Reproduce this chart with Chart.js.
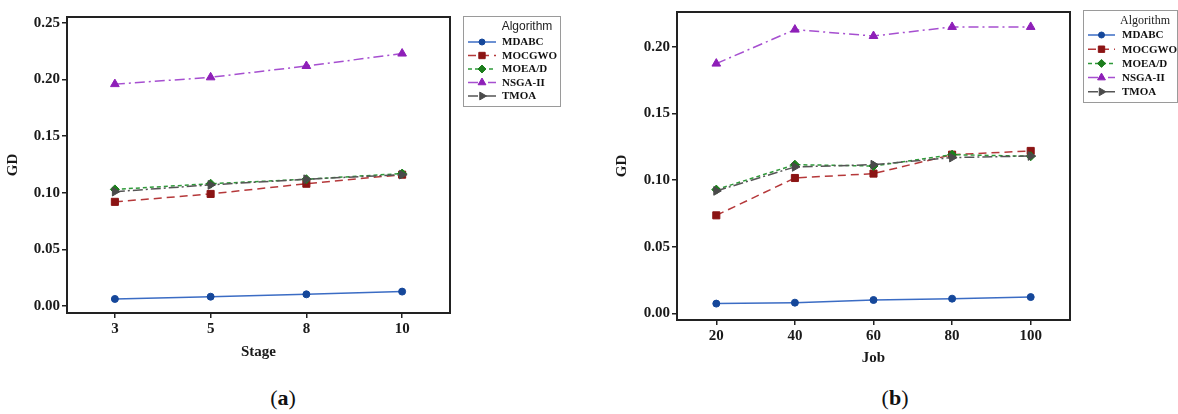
<!DOCTYPE html>
<html>
<head>
<meta charset="utf-8">
<script src="https://cdn.jsdelivr.net/npm/chart.js@4.4.1/dist/chart.umd.min.js"></script>
<style>
  body { margin: 0; background: #fff; width: 1178px; height: 414px; overflow: hidden; position: relative; }
  canvas { position: absolute; top: 0; }
  #chartA { left: 0; }
  #chartB { left: 590px; }
  .sub { position: absolute; top: 385px; font: 22px "Liberation Serif", serif; color: #111; transform: translateX(-50%); }
</style>
</head>
<body>
<canvas id="chartA" width="580" height="380"></canvas>
<canvas id="chartB" width="588" height="380"></canvas>
<div class="sub" style="left:283px">(<b>a</b>)</div>
<div class="sub" style="left:895px">(<b>b</b>)</div>
<script>
// algorithm names, same order in both panels
const algorithms = ["MDABC", "MOCGWO", "MOEA/D", "NSGA-II", "TMOA"];

// panel (a): GD vs number of stages
const stageLabels = ["3", "5", "8", "10"];
const stageMDABC = [0.0062, 0.0082, 0.0103, 0.0127];
const stageMOCGWO = [0.092, 0.099, 0.108, 0.116];
const stageMOEAD = [0.103, 0.108, 0.112, 0.117];
const stageNSGA2 = [0.196, 0.202, 0.212, 0.223];
const stageTMOA = [0.101, 0.107, 0.112, 0.116];

// panel (b): GD vs number of jobs
const jobLabels = ["20", "40", "60", "80", "100"];
const jobMDABC = [0.0073, 0.008, 0.010, 0.011, 0.0122];
const jobMOCGWO = [0.0735, 0.1015, 0.1048, 0.119, 0.1218];
const jobMOEAD = [0.0928, 0.1115, 0.1105, 0.119, 0.1178];
const jobNSGA2 = [0.1873, 0.2128, 0.208, 0.2148, 0.2148];
const jobTMOA = [0.0918, 0.1098, 0.1115, 0.1168, 0.118];

const gdTicks = [0, 0.05, 0.1, 0.15, 0.2, 0.25];

// line look per algorithm
const styles = [
  { line: "#3b6cc4", mark: "#15479a", dash: [], shape: "circle", r: 3.5, rot: 0, order: 5 },
  { line: "#b5383a", mark: "#8b1414", dash: [8, 5], shape: "rect", r: 5, rot: 0, order: 4 },
  { line: "#2f9a3a", mark: "#1c7d1c", dash: [4, 3], shape: "rectRot", r: 4.5, rot: 0, order: 3 },
  { line: "#a64fd0", mark: "#8e1fb8", dash: [10, 4, 2, 4], shape: "triangle", r: 5, rot: 0, order: 2 },
  { line: "#555555", mark: "#4a4a4a", dash: [10, 3, 2, 3], shape: "triangle", r: 5, rot: 90, order: 1 },
];

function makeDatasets(series) {
  return series.map((data, i) => {
    const s = styles[i];
    return {
      label: algorithms[i],
      data: data,
      borderColor: s.line,
      borderWidth: 1.5,
      borderDash: s.dash,
      pointStyle: s.shape,
      pointRotation: s.rot,
      pointRadius: s.r,
      pointHoverRadius: s.r,
      pointBackgroundColor: s.mark,
      pointBorderColor: s.mark,
      pointBorderWidth: 1,
      fill: false,
      tension: 0,
      order: s.order,
    };
  });
}

const frame = {
  id: "frame",
  afterDraw(chart) {
    const a = chart.chartArea;
    const ctx = chart.ctx;
    ctx.save();
    ctx.strokeStyle = "#222";
    ctx.lineWidth = 2;
    ctx.strokeRect(a.left, a.top, a.right - a.left, a.bottom - a.top);
    ctx.restore();
  },
};

const boxLegend = {
  id: "boxLegend",
  afterDraw(chart, args, o) {
    const ctx = chart.ctx;
    ctx.save();
    ctx.strokeStyle = "#9a9a9a";
    ctx.lineWidth = 1;
    ctx.strokeRect(o.x + 0.5, o.y + 0.5, o.w, o.h);
    ctx.fillStyle = "#222";
    ctx.textBaseline = "middle";
    ctx.textAlign = "center";
    ctx.font = o.titleFont;
    ctx.fillText("Algorithm", o.titleX, o.titleY);
    ctx.textAlign = "left";
    chart.data.datasets.forEach((ds, i) => {
      const y = o.rowY + i * o.rowGap;
      ctx.strokeStyle = ds.borderColor;
      ctx.lineWidth = 1.5;
      ctx.setLineDash(ds.borderDash);
      ctx.beginPath();
      ctx.moveTo(o.lineX0, y);
      ctx.lineTo(o.lineX1, y);
      ctx.stroke();
      ctx.setLineDash([]);
      ctx.fillStyle = ds.pointBackgroundColor;
      ctx.strokeStyle = ds.pointBorderColor;
      ctx.lineWidth = 1;
      Chart.helpers.drawPoint(ctx, {
        pointStyle: ds.pointStyle, rotation: ds.pointRotation, radius: ds.pointRadius - 0.5, borderWidth: 1,
      }, (o.lineX0 + o.lineX1) / 2, y);
      ctx.fillStyle = "#111";
      ctx.font = 'bold 11px "Liberation Serif", serif';
      ctx.fillText(ds.label, o.textX, y + 0.5);
    });
    ctx.restore();
  },
};

const tickFont = { family: '"Liberation Serif", serif', size: 15, weight: "bold" };

function makeChart(id, labels, series, cfg) {
  return new Chart(document.getElementById(id), {
    type: "line",
    data: { labels: labels, datasets: makeDatasets(series) },
    plugins: [frame, boxLegend],
    options: {
      responsive: false,
      animation: false,
      events: [],
      layout: { padding: { left: 0, top: cfg.top, right: cfg.right, bottom: 0 } },
      plugins: {
        legend: { display: false },
        tooltip: { enabled: false },
        boxLegend: cfg.legend,
      },
      scales: {
        x: {
          type: "category",
          offset: true,
          grid: { display: true, drawOnChartArea: false, drawTicks: true, tickLength: 5, color: "#222", lineWidth: 1.5 },
          border: { display: true, color: "#222", width: 2 },
          ticks: { font: tickFont, color: "#1a1a1a", padding: 2, maxRotation: 0 },
          title: { display: true, text: cfg.xTitle, font: tickFont, color: "#1a1a1a", padding: { top: 0, bottom: cfg.xTitlePad } },
          afterFit(scale) { scale.height = cfg.xHeight; },
        },
        y: {
          min: cfg.yMin,
          max: cfg.yMax,
          grid: { display: true, drawOnChartArea: false, drawTicks: true, tickLength: 5, color: "#222", lineWidth: 1.5 },
          border: { display: true, color: "#222", width: 2 },
          ticks: { font: tickFont, color: "#1a1a1a", padding: 2, callback: (v) => Number(v).toFixed(2) },
          afterBuildTicks(scale) { scale.ticks = cfg.yTicks.map((v) => ({ value: v })); },
          title: { display: true, text: "GD", font: tickFont, color: "#1a1a1a", padding: { top: cfg.yTitlePad, bottom: 0 } },
          afterFit(scale) { scale.width = cfg.yWidth; },
        },
      },
    },
  });
}

makeChart("chartA", stageLabels, [stageMDABC, stageMOCGWO, stageMOEAD, stageNSGA2, stageTMOA], {
  top: 17, right: 130, xHeight: 67, yWidth: 67,
  yMin: -0.0062, yMax: 0.2553, yTicks: gdTicks,
  xTitle: "Stage", xTitlePad: 19, yTitlePad: 4,
  legend: {
    x: 463, y: 16, w: 97, h: 90,
    titleFont: '12px "Liberation Sans", Arial, sans-serif', titleX: 527, titleY: 27,
    rowY: 42, rowGap: 13.5, lineX0: 468, lineX1: 496, textX: 502,
  },
});

makeChart("chartB", jobLabels, [jobMDABC, jobMOCGWO, jobMOEAD, jobNSGA2, jobTMOA], {
  top: 12, right: 108, xHeight: 60, yWidth: 87,
  yMin: -0.005, yMax: 0.226, yTicks: gdTicks.slice(0, 5),
  xTitle: "Job", xTitlePad: 13, yTitlePad: 23,
  legend: {
    x: 493, y: 10, w: 94, h: 92,
    titleFont: '12px "Liberation Serif", serif', titleX: 555, titleY: 21,
    rowY: 35, rowGap: 14.2, lineX0: 498, lineX1: 525, textX: 532,
  },
});
</script>
</body>
</html>
